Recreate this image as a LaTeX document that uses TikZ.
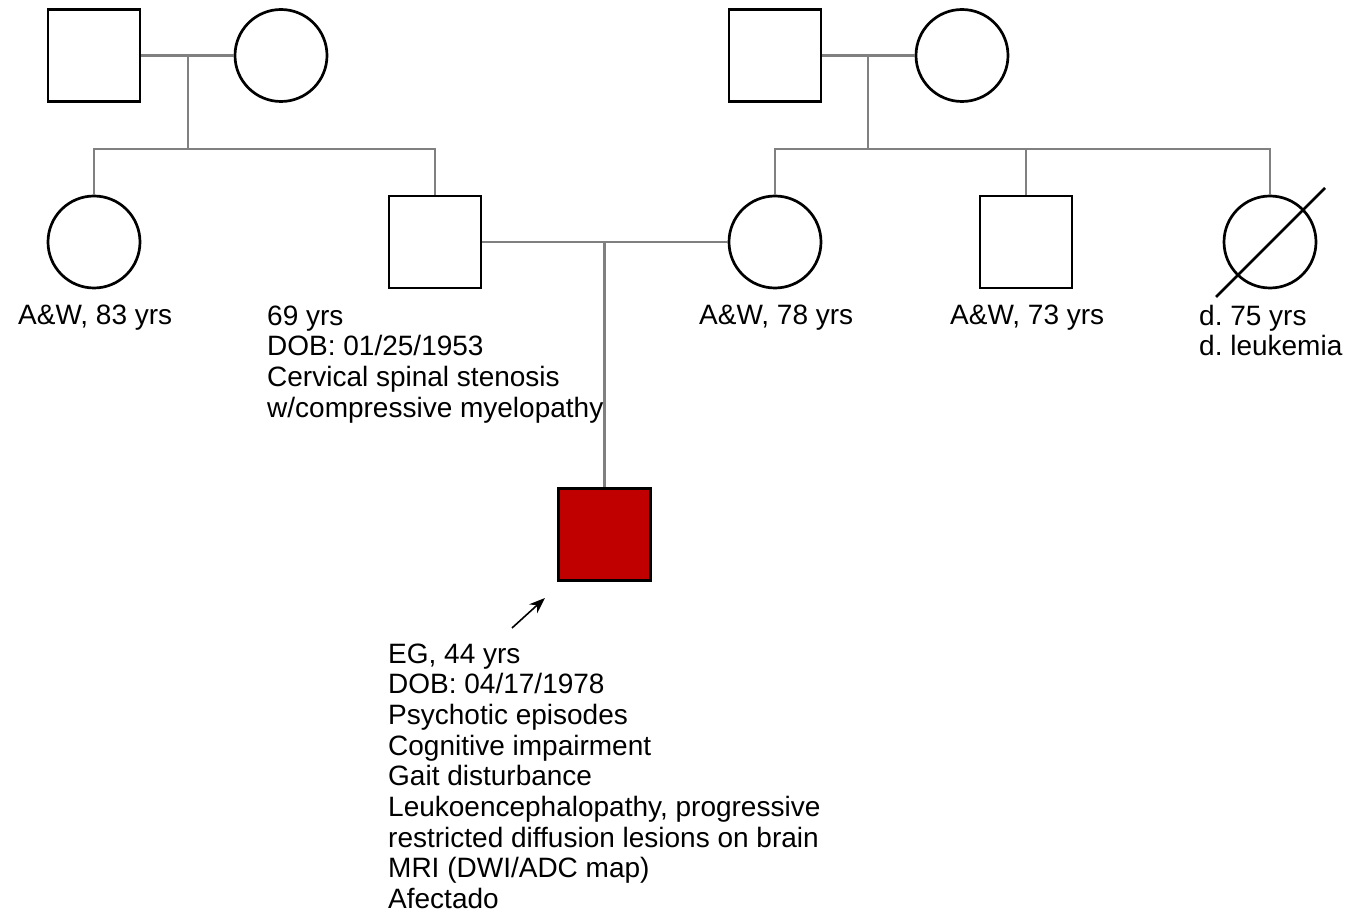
\documentclass[tikz,border=0pt]{standalone}
\usepackage{fontspec}
\setmainfont{Liberation Sans}
\usetikzlibrary{arrows.meta}
\frenchspacing
\begin{document}
\begin{tikzpicture}[x=1pt,y=-1pt,
  male/.style={draw=black,line width=2.7pt,rectangle,minimum size=92pt,inner sep=0pt},
  female/.style={draw=black,line width=2.7pt,circle,minimum size=92pt,inner sep=0pt},
  affected/.style={fill=affred},
  link/.style={draw=linkgray,line width=2.2pt},
  lbl/.style={anchor=base west,inner sep=0pt,align=left,font=\fontsize{28}{30.7}\selectfont\frenchspacing}
]
\definecolor{affred}{HTML}{C00000}
\definecolor{linkgray}{HTML}{808080}
\useasboundingbox (0,0) rectangle (1347,917);
% coordinates
\coordinate (m1) at (188,57);
\coordinate (s1) at (188,149);
\coordinate (m2) at (868,57);
\coordinate (s2) at (868,149);
\coordinate (m3) at (604.5,242);
\coordinate (d1) at (1216,297);
\coordinate (d2) at (1325,188);
\coordinate (ar1) at (512,628);
\coordinate (ar2) at (545,598);
% generation I
\node[male] (gf1) at (94,55.5) {};
\node[female] (gm1) at (281,55.5) {};
\node[male] (gf2) at (775,55.5) {};
\node[female] (gm2) at (962,55.5) {};
% generation II
\node[female] (a1) at (94,242) {};
\node[male] (fa) at (435,242) {};
\node[female] (mo) at (775,242) {};
\node[male] (u2) at (1026,242) {};
\node[female] (a3) at (1270,242) {};
% proband
\node[male,affected] (pb) at (604.5,534.5) {};
% connectors
\path[link] (gf1.east) -- (gm1.west);
\path[link] (m1) -- (s1);
\path[link] (a1.north) |- (s1) -| (fa.north);
\path[link] (gf2.east) -- (gm2.west);
\path[link] (m2) -- (s2);
\path[link] (mo.north) |- (s2) -| (a3.north);
\path[link] (s2) -| (u2.north);
\path[link] (fa.east) -- (mo.west);
\path[link] (m3) -- (pb.north);
\draw[line width=2.7pt] (d1) -- (d2);
\draw[line width=1.6pt,-{Stealth[length=16pt,width=12pt]}] (ar1) -- (ar2);
% labels (anchor = baseline of last line)
\node[lbl] (l1) at (18,325) {A\&W, 83 yrs};
\node[lbl] (l2) at (267,417.1) {69 yrs\\DOB: 01/25/1953\\Cervical spinal stenosis\\w/compressive myelopathy};
\node[lbl] (l3) at (699,325) {A\&W, 78 yrs};
\node[lbl] (l4) at (950,325) {A\&W, 73 yrs};
\node[lbl] (l5) at (1199,355.7) {d. 75 yrs\\d. leukemia};
\node[lbl] (l6) at (388,908.6) {EG, 44 yrs\\DOB: 04/17/1978\\Psychotic episodes\\Cognitive impairment\\Gait disturbance\\Leukoencephalopathy, progressive\\restricted diffusion lesions on brain\\MRI (DWI/ADC map)\\Afectado};
\end{tikzpicture}
\end{document}
